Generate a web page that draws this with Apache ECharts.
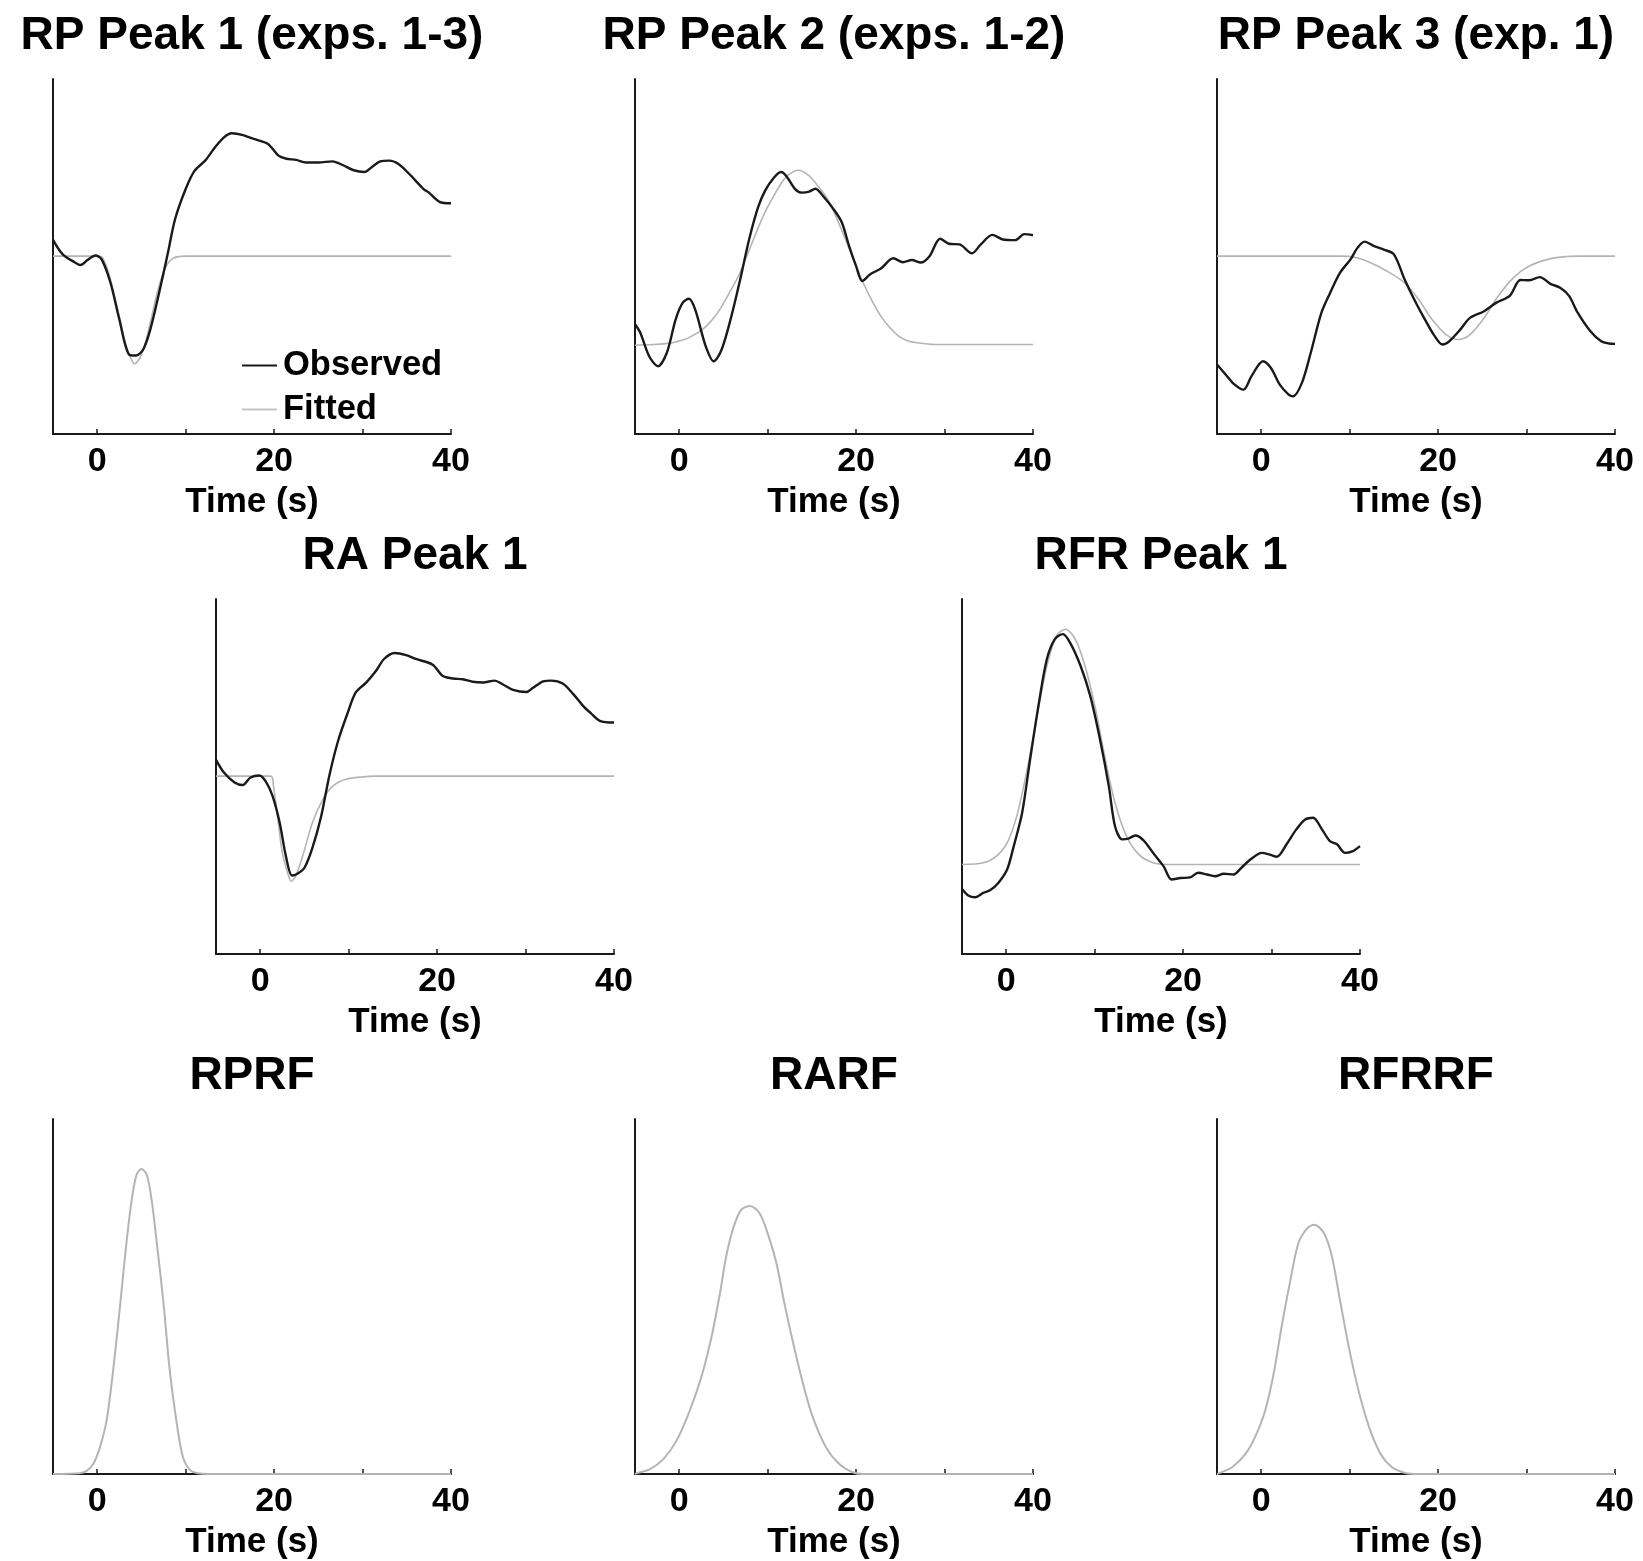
<!DOCTYPE html>
<html>
<head>
<meta charset="utf-8">
<title>Peak responses and response functions</title>
<script src="https://cdn.jsdelivr.net/npm/echarts@6/dist/echarts.min.js"></script>
<style>
  html, body { margin: 0; padding: 0; background: #fff; }
  #chart { width: 1643px; height: 1561px; }
</style>
</head>
<body>
<div id="chart"></div>
<script>
// Time axis (s) and its tick marks / labels
const timeRange = [-5, 40];
const tickValues = [0, 10, 20, 30, 40];
const tickLabels = [0, 20, 40];
const axisTitle = 'Time (s)';
const legendNames = ['Observed', 'Fitted'];

// Responses, [time (s), response (a.u., 0-100 of panel scale)]
const rpPeak1Observed = [[-5,54.7],[-3.9,50.6],[-2.5,48.3],[-1.9,47.6],[-1.1,49.0],[-0.2,50.3],[0.5,49.2],[1.5,42.6],[2.5,32.3],[3.6,22.4],[4.4,22.1],[5.2,23.8],[6.0,29.4],[7.0,39.8],[8.0,51.1],[8.8,60.5],[10.0,69.0],[11.0,74.1],[12.2,77.0],[13.3,80.7],[14.3,83.5],[15.2,84.7],[16.5,84.2],[17.7,83.1],[19.3,81.7],[20.5,78.4],[21.3,77.6],[22.5,77.2],[23.6,76.5],[25.0,76.5],[26.6,76.8],[27.8,75.7],[29.0,74.3],[30.2,73.8],[31.0,75.1],[32.0,76.8],[33.0,77.0],[34.1,76.0],[35.3,73.2],[36.9,69.0],[37.5,68.0],[38.7,65.4],[40,65.0]];
const rpPeak1Fitted = [[-5,50.1],[0,50.1],[0.5,49.9],[1,47.5],[1.5,43.5],[2,38.5],[2.5,33],[3,27.5],[3.5,23.2],[4,20.3],[4.2,19.8],[4.5,20.2],[5,22.3],[5.5,26.3],[6,31.3],[6.5,36.8],[7,41.8],[7.5,45.6],[8,48.1],[8.5,49.4],[9,49.9],[10,50.1],[40,50.1]];

const rpPeak2Observed = [[-5,30.9],[-4.4,28.5],[-3.4,21.9],[-2.4,19.1],[-1.4,22.9],[-0.4,32.3],[0.4,37.0],[1.1,38.1],[1.8,35.1],[3.0,24.7],[3.9,20.5],[4.8,23.8],[5.9,33.2],[6.9,43.6],[7.9,54.8],[8.9,63.8],[9.7,68.5],[10.7,72.2],[11.5,73.8],[12.1,72.7],[13.1,69.0],[13.9,68.0],[14.7,68.3],[15.4,69.1],[16.4,66.6],[17.6,62.8],[18.4,59.5],[19.2,53.0],[20.0,47.3],[20.7,43.1],[21.6,45.0],[22.8,46.6],[24.2,49.5],[25.3,48.4],[26.3,49.0],[27.3,48.3],[28.3,50.1],[29.5,55.0],[30.5,53.6],[31.7,53.4],[33.1,50.9],[34.1,53.4],[35.4,56.1],[36.6,54.8],[38.0,54.6],[39.0,56.3],[40,56.0]];
const rpPeak2Fitted = [[-5,25.0],[-3,25.2],[-1,25.6],[0,26.2],[1,27.0],[2.6,29.4],[3.6,31.8],[4.6,35.1],[5.6,39.5],[6.7,44.5],[7.7,50.5],[8.7,56.7],[9.7,62.5],[10.7,67.1],[11.5,70.5],[12.3,72.9],[13.5,74.3],[14.7,72.7],[15.7,69.8],[16.8,66.1],[17.8,60.8],[18.8,54.8],[19.8,48.5],[20.8,42.6],[21.8,37.5],[22.8,33.2],[23.8,30.0],[24.8,27.6],[25.8,26.3],[26.9,25.7],[28.9,25.2],[40,25.2]];

const rpPeak3Observed = [[-5,19.6],[-4,16.7],[-3.0,13.9],[-2.0,12.5],[-1.1,16.3],[0.2,20.5],[1.1,18.6],[2.1,13.9],[3.1,11.1],[3.6,10.6],[4.6,14.4],[5.6,22.9],[6.8,34.1],[7.8,39.8],[8.9,45.4],[10.1,49.2],[10.9,52.5],[11.7,54.2],[12.7,53.0],[13.8,52.0],[15.0,50.6],[16.2,43.6],[17.4,37.4],[18.5,32.3],[19.5,28.0],[20.5,25.2],[21.3,26.2],[22.5,29.4],[23.6,32.7],[25.2,34.6],[26.6,37.0],[28.1,38.9],[29.3,43.4],[30.3,43.3],[31.5,44.2],[32.7,42.3],[33.8,41.2],[34.8,38.9],[35.8,34.1],[37.2,29.0],[38.4,26.2],[39.3,25.5],[40,25.4]];
const rpPeak3Fitted = [[-5,50.1],[9,50.1],[10.7,49.7],[12.3,48.3],[14.2,45.9],[16.2,42.6],[17.8,37.9],[19.3,32.3],[20.9,28.0],[22.3,26.6],[23.6,28.0],[25.2,32.7],[26.8,38.9],[28.5,44.0],[30.3,47.3],[32.7,49.4],[34.6,50.0],[36,50.1],[40,50.1]];

const raPeak1Observed = [[-5,54.7],[-4.1,51.1],[-2.9,48.3],[-2.0,47.6],[-1.1,49.7],[-0.1,50.3],[0.6,48.7],[1.4,44.5],[2.2,37.0],[2.9,27.6],[3.6,22.1],[4.2,22.6],[5.0,24.3],[5.9,29.9],[6.9,38.9],[7.8,50.1],[8.8,60.0],[9.9,68.0],[10.8,73.7],[12.0,76.5],[13.1,79.8],[14.0,83.1],[15.2,84.8],[16.5,84.2],[17.6,83.1],[19.5,81.5],[20.6,78.4],[21.8,77.6],[22.9,77.4],[24.0,76.7],[25.2,76.5],[26.5,77.0],[27.4,76.0],[28.6,74.4],[30.1,73.8],[30.8,74.9],[32.0,76.8],[32.9,77.0],[34.2,76.2],[35.4,73.2],[36.5,69.9],[37.4,67.8],[38.4,65.7],[40,65.2]];
const raPeak1Fitted = [[-5,50.1],[1.2,50.1],[1.5,47.3],[2.0,37.9],[2.5,28.5],[3.1,22.9],[3.5,20.5],[4.0,21.9],[4.8,27.6],[5.9,37.0],[7.1,43.6],[8.2,47.3],[9.7,49.2],[11.6,49.9],[13,50.1],[40,50.1]];

const rfrPeak1Observed = [[-5,18.3],[-4.3,16.5],[-3.5,16.0],[-2.6,17.2],[-1.8,18.0],[-0.9,20.0],[0.1,23.8],[0.8,29.9],[1.8,39.8],[2.7,54.8],[3.7,70.8],[4.6,83.1],[5.5,88.7],[6.4,90.1],[7.2,87.8],[8.4,81.2],[9.5,72.7],[10.6,60.5],[11.6,47.3],[12.3,36.0],[13.1,32.3],[13.8,32.5],[14.6,33.4],[15.5,32.1],[16.6,28.5],[17.8,24.7],[18.7,21.0],[19.7,21.4],[20.8,21.6],[21.7,22.9],[22.7,22.4],[23.6,21.9],[24.6,22.6],[25.7,22.4],[26.6,24.3],[27.6,26.6],[28.9,28.5],[29.8,28.0],[30.6,27.4],[31.7,30.9],[32.8,35.1],[33.8,37.9],[34.7,38.4],[35.7,35.1],[36.6,31.8],[37.4,30.9],[38.3,28.5],[39.2,29.0],[40,30.4]];
const rfrPeak1Fitted = [[-5,25.2],[-2.6,25.7],[-1.1,27.6],[0.1,31.3],[1.2,38.9],[2.3,51.1],[3.5,67.1],[4.6,81.2],[5.7,89.7],[6.7,91.5],[7.8,88.7],[8.9,81.2],[10.1,69.0],[11.2,54.8],[12.3,42.6],[13.6,33.2],[15.0,28.0],[16.6,25.7],[18.2,25.2],[40,25.2]];

// Response functions
const rprf = [[-5,0],[-2,0.2],[-1.2,0.9],[-0.45,2.8],[0.3,7.5],[1.06,15.1],[1.8,29.2],[2.57,47.1],[3.3,65.0],[3.9,77.2],[4.45,84.3],[5.0,85.9],[5.6,84.3],[6.15,77.2],[6.7,65.9],[7.5,48.0],[8.2,29.2],[9.0,14.1],[9.7,4.7],[10.5,1.1],[11.4,0.2],[12.5,0],[40,0]];
const rarf = [[-5,0],[-4.8,0.2],[-3.3,1.4],[-1.8,4.2],[-0.3,9.4],[1.2,17.9],[2.5,27.3],[3.65,38.6],[4.6,50.8],[5.3,61.2],[6.1,69.2],[7.0,74.4],[8.0,75.5],[9.1,73.4],[10.0,67.8],[11.0,59.3],[11.9,48.0],[12.9,36.7],[14.0,25.4],[15.1,16.0],[16.6,7.5],[18.1,2.8],[19.6,0.5],[20.8,0],[40,0]];
const rfrrf = [[-5,0],[-4.8,0.2],[-3.3,1.9],[-1.8,5.6],[-0.7,10.4],[0.45,17.9],[1.4,28.2],[2.3,41.4],[3.3,54.6],[4.2,65.0],[5.2,69.2],[6.0,70.2],[7.1,67.8],[8.0,61.2],[8.9,49.0],[9.9,35.8],[11.0,23.5],[12.2,13.2],[13.5,5.6],[14.8,1.9],[16.3,0.3],[17.8,0],[40,0]];

// Panel definitions: title, observed / fitted curves
const panels = [
  { title: 'RP Peak 1 (exps. 1-3)', observed: rpPeak1Observed, fitted: rpPeak1Fitted },
  { title: 'RP Peak 2 (exps. 1-2)', observed: rpPeak2Observed, fitted: rpPeak2Fitted },
  { title: 'RP Peak 3 (exp. 1)',    observed: rpPeak3Observed, fitted: rpPeak3Fitted },
  { title: 'RA Peak 1',             observed: raPeak1Observed, fitted: raPeak1Fitted },
  { title: 'RFR Peak 1',            observed: rfrPeak1Observed, fitted: rfrPeak1Fitted },
  { title: 'RPRF',  fitted: rprf },
  { title: 'RARF',  fitted: rarf },
  { title: 'RFRRF', fitted: rfrrf }
];

// Page layout (px): plot rectangle of each panel
const boxes = [
  [53, 79], [635, 79], [1217, 79],
  [216, 599], [962, 599],
  [53, 1119], [635, 1119], [1217, 1119]
];
const plotW = 398, plotH = 355;

const FONT = "'Liberation Sans', Helvetica, Arial, sans-serif";
const INK = '#1a1a1a';
const GREY = '#b4b4b4';

const option = {
  animation: false,
  backgroundColor: '#fff',
  title: [],
  grid: [],
  xAxis: [],
  yAxis: [],
  series: [],
  legend: {
    data: [
      { name: legendNames[0], icon: 'rect', itemStyle: { color: INK } },
      { name: legendNames[1], icon: 'rect', itemStyle: { color: '#c4c4c4' } }
    ],
    orient: 'vertical',
    left: 242,
    top: 348,
    padding: 0,
    itemWidth: 35,
    itemHeight: 2,
    itemGap: 9,
    selectedMode: false,
    textStyle: { fontFamily: FONT, fontSize: 34.5, fontWeight: 'bold', color: '#000', padding: [0, 0, 0, 1] }
  }
};

panels.forEach((p, i) => {
  const [left, top] = boxes[i];
  option.title.push({
    text: p.title,
    left: left + plotW / 2,
    top: top - 70,
    textAlign: 'center',
    padding: 0,
    textStyle: { fontFamily: FONT, fontSize: 46, fontWeight: 'bold', color: '#000', lineHeight: 54 }
  });
  option.grid.push({ left: left, top: top, width: plotW, height: plotH, outerBoundsMode: 'none' });
  option.xAxis.push({
    gridIndex: i,
    type: 'value',
    min: timeRange[0],
    max: timeRange[1],
    name: axisTitle,
    nameLocation: 'middle',
    nameGap: 68,
    nameTextStyle: { fontFamily: FONT, fontSize: 35, fontWeight: 'bold', color: '#000', verticalAlign: 'middle' },
    axisLine: { onZero: false, lineStyle: { color: INK, width: 2 } },
    axisTick: { inside: true, length: 5, customValues: tickValues, lineStyle: { color: INK, width: 1.5 } },
    axisLabel: { customValues: tickLabels, margin: 11, fontFamily: FONT, fontSize: 34, fontWeight: 'bold', color: '#000' },
    splitLine: { show: false }
  });
  option.yAxis.push({
    gridIndex: i,
    type: 'value',
    min: 0,
    max: 100,
    axisLine: { show: true, onZero: false, lineStyle: { color: INK, width: 2 } },
    axisTick: { show: false },
    axisLabel: { show: false },
    splitLine: { show: false }
  });
  option.series.push({
    name: p.observed ? 'Fitted' : p.title,
    type: 'line',
    xAxisIndex: i, yAxisIndex: i,
    data: p.fitted,
    showSymbol: false, symbol: 'none',
    smooth: 0.3,
    lineStyle: { color: GREY, width: p.observed ? 1.6 : 2 },
    itemStyle: { color: GREY },
    z: 2
  });
  if (p.observed) {
    option.series.push({
      name: 'Observed',
      type: 'line',
      xAxisIndex: i, yAxisIndex: i,
      data: p.observed,
      showSymbol: false, symbol: 'none',
      smooth: 0.3,
      lineStyle: { color: INK, width: 2.4 },
      itemStyle: { color: INK },
      z: 3
    });
  }
});

const chart = echarts.init(document.getElementById('chart'), null, { renderer: 'canvas' });
chart.setOption(option);
</script>
</body>
</html>
